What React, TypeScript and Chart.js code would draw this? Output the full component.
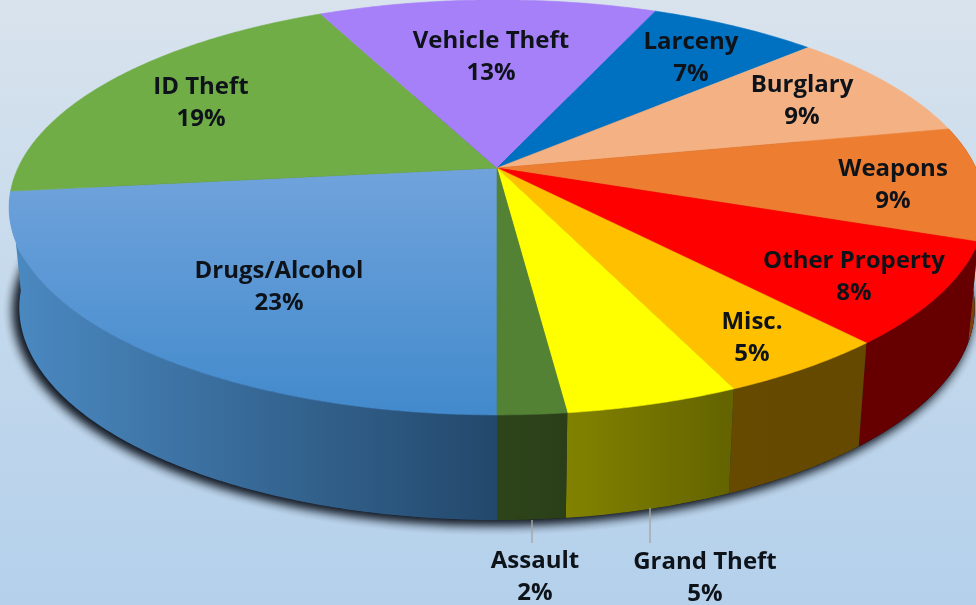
import React, { useEffect, useRef } from "react";
import { Chart, registerables } from "chart.js";

Chart.register(...registerables);

// Order runs clockwise from the bottom of the pie.
const categories = ["Drugs/Alcohol", "ID Theft", "Vehicle Theft", "Larceny", "Burglary", "Weapons", "Other Property", "Misc.", "Grand Theft", "Assault"];
const sliceValues = [23.2, 19.7, 13.45, 6.75, 8.65, 8.85, 7.9, 4.8, 4.8, 1.9];
const percentLabels = ["23%", "19%", "13%", "7%", "9%", "9%", "8%", "5%", "5%", "2%"];
const topColors = ["#5b9bd5", "#70ad47", "#a680f8", "#0070c0", "#f4b183", "#ed7d31", "#ff0000", "#ffc000", "#ffff00", "#548235"];
const wallLeftColors = ["#4a88c0", "#3f6a2a", "#5f4a90", "#004070", "#8a6040", "#7c4010", "#660000", "#664a00", "#828200", "#2e451b"];
const wallRightColors = ["#23486b", "#3f6a2a", "#5f4a90", "#004070", "#8a6040", "#7c4010", "#660000", "#654900", "#646400", "#2a3f18"];
const labelCenters = [[279, 271], [201, 87], [491, 41], [691, 42], [802, 85], [893, 169], [854, 261], [752, 322], [705, 562], [535, 561]];
const LINE_GAP = 32;
const leaderLines = [[532, 520, 532, 543], [650, 508, 650, 543]];

const TOP_PLATE = { x0: 497, y0: 168, a: 479, b: 200 };
const LOW_PLATE = { x0: 497, y0: 267, a: 469, b: 205 };
const TILT = 0.19;

type Plate = typeof TOP_PLATE;
const project = (angle: number, r: number, p: Plate): [number, number] => {
  const u = Math.cos(angle) * r;
  const v = -Math.sin(angle) * r;
  const w = 1 + TILT * v;
  return [p.x0 + (p.a * u) / w, p.y0 - (p.b * v) / w];
};

const rim = (ctx: CanvasRenderingContext2D, start: number, end: number, p: Plate, move: boolean) => {
  const steps = Math.max(4, Math.ceil(Math.abs(end - start) / 0.01));
  for (let i = 0; i <= steps; i++) {
    const [x, y] = project(start + ((end - start) * i) / steps, 1, p);
    if (i === 0 && move) ctx.moveTo(x, y);
    else ctx.lineTo(x, y);
  }
};

const perspectivePie = {
  id: "perspectivePie",
  beforeDatasetsDraw(chart: Chart) {
    const ctx = chart.ctx;
    const arcs = chart.getDatasetMeta(0).data as any[];
    ctx.save();

    // soft shadow under the base
    ctx.save();
    ctx.shadowColor = "rgba(10,15,25,0.9)";
    ctx.shadowBlur = 12;
    ctx.shadowOffsetX = -4;
    ctx.shadowOffsetY = 3;
    ctx.fillStyle = "#223";
    for (let pass = 0; pass < 2; pass++) {
      ctx.beginPath();
      rim(ctx, 0, Math.PI * 2, LOW_PLATE, true);
      ctx.closePath();
      ctx.fill();
    }
    ctx.restore();

    // walls: only slices reaching the front of the pie show one
    arcs.forEach((arc, i) => {
      const { startAngle, endAngle } = arc.getProps(["startAngle", "endAngle"], true);
      if (Math.sin((startAngle + endAngle) / 2) < 0) return;
      const xs = [project(startAngle, 1, LOW_PLATE)[0], project(endAngle, 1, LOW_PLATE)[0]];
      const g = ctx.createLinearGradient(Math.min(...xs), 0, Math.max(...xs) + 1, 0);
      g.addColorStop(0, wallLeftColors[i]);
      g.addColorStop(1, wallRightColors[i]);
      ctx.fillStyle = g;
      ctx.beginPath();
      rim(ctx, startAngle, endAngle, TOP_PLATE, true);
      rim(ctx, endAngle, startAngle, LOW_PLATE, false);
      ctx.closePath();
      ctx.fill();
    });

    // top face
    arcs.forEach((arc, i) => {
      const { startAngle, endAngle } = arc.getProps(["startAngle", "endAngle"], true);
      let fill: string | CanvasGradient = arc.options.backgroundColor;
      if (i === 0) {
        const g = ctx.createLinearGradient(0, 170, 0, 415);
        g.addColorStop(0, "#70a3dc");
        g.addColorStop(1, "#428acc");
        fill = g;
      }
      ctx.fillStyle = fill;
      ctx.strokeStyle = fill;
      ctx.lineWidth = 0.6;
      ctx.beginPath();
      ctx.moveTo(TOP_PLATE.x0, TOP_PLATE.y0);
      rim(ctx, startAngle, endAngle, TOP_PLATE, false);
      ctx.closePath();
      ctx.fill();
      ctx.stroke();
    });

    // leader lines
    ctx.strokeStyle = "#a6a6a6";
    ctx.lineWidth = 1.4;
    leaderLines.forEach(([x1, y1, x2, y2]) => {
      ctx.beginPath();
      ctx.moveTo(x1, y1);
      ctx.lineTo(x2, y2);
      ctx.stroke();
    });

    // labels
    ctx.font = 'bold 24px "Open Sans", sans-serif';
    ctx.textAlign = "center";
    ctx.textBaseline = "middle";
    ctx.fillStyle = "#0e131a";
    (ctx as any).filter = "blur(0.5px)";
    categories.forEach((name, i) => {
      const [x, y] = labelCenters[i];
      ctx.fillText(name, x, y);
      ctx.fillText(percentLabels[i], x, y + LINE_GAP);
    });

    ctx.restore();
    return false;
  },
};

const pageBackground = {
  id: "pageBackground",
  beforeDraw(chart: Chart) {
    const { ctx, width, height } = chart;
    const g = ctx.createLinearGradient(0, 0, 0, height);
    g.addColorStop(0, "#d9e3ed");
    g.addColorStop(0.5, "#c4d9ec");
    g.addColorStop(1, "#b4d0eb");
    ctx.fillStyle = g;
    ctx.fillRect(0, 0, width, height);
  },
};

export default function App() {
  const ref = useRef<HTMLCanvasElement>(null);
  useEffect(() => {
    const chart = new Chart(ref.current!, {
      type: "pie",
      data: {
        labels: categories,
        datasets: [{ data: sliceValues, backgroundColor: topColors, borderWidth: 0 }],
      },
      options: {
        responsive: false,
        animation: false,
        rotation: 180,
        events: [],
        plugins: { legend: { display: false }, tooltip: { enabled: false } },
      },
      plugins: [pageBackground, perspectivePie],
    } as any);
    return () => chart.destroy();
  }, []);
  return (
    <div style={{ position: "fixed", left: 0, top: 0, width: 976, height: 605, overflow: "hidden" }}>
      <canvas ref={ref} width={976} height={605} />
    </div>
  );
}
